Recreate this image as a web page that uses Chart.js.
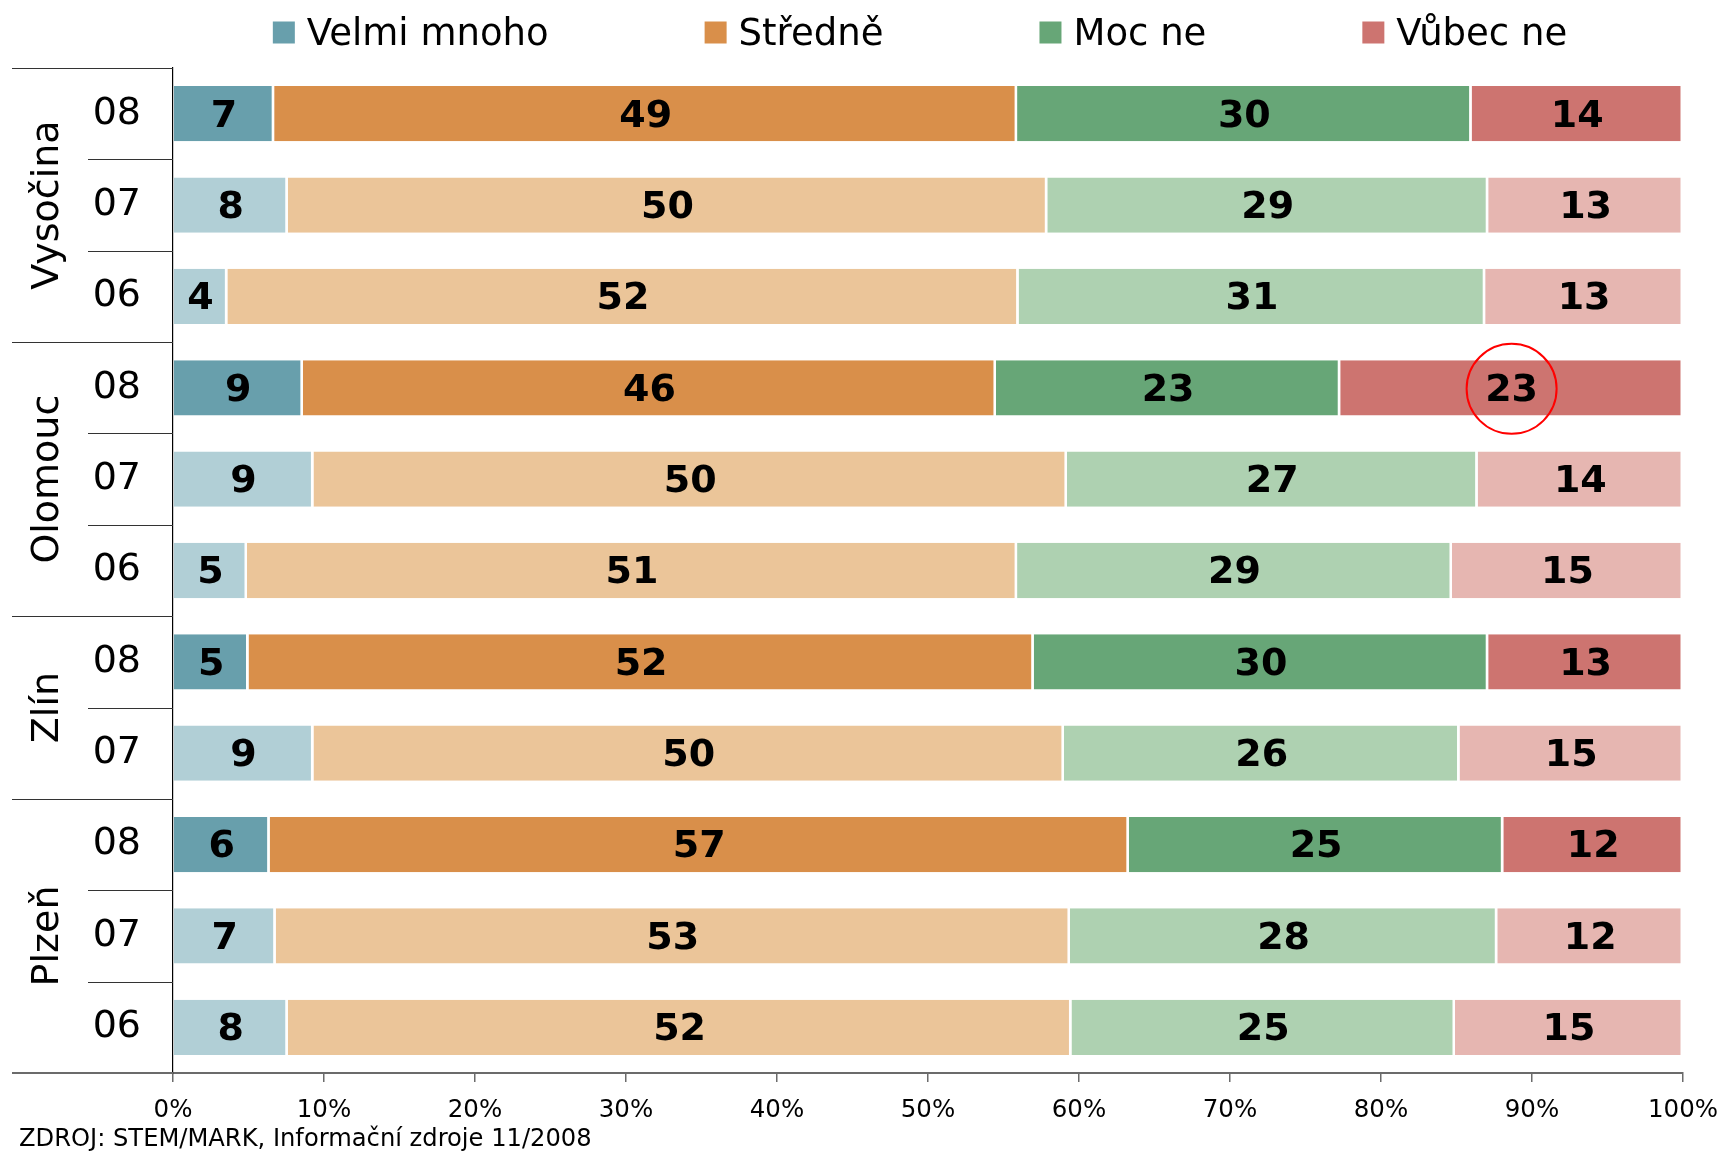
<!DOCTYPE html>
<html lang="cs">
<head>
<meta charset="utf-8">
<title>Informační zdroje 11/2008</title>
<script src="https://cdn.jsdelivr.net/npm/chart.js@4/dist/chart.umd.min.js"></script>
<style>
  html, body { margin: 0; padding: 0; background: #fff; }
  #obal { width: 1719px; height: 1152px; position: relative; }
</style>
</head>
<body>
<div id="obal"><canvas id="graf"></canvas></div>
<script>
// radky grafu shora dolu
const kraje = ['Vysočina', 'Vysočina', 'Vysočina', 'Olomouc', 'Olomouc', 'Olomouc', 'Zlín', 'Zlín', 'Plzeň', 'Plzeň', 'Plzeň'];
const roky = ['08', '07', '06', '08', '07', '06', '08', '07', '08', '07', '06'];

const odpovedi = ['Velmi mnoho', 'Středně', 'Moc ne', 'Vůbec ne'];

// podily v % odectene z delky pruhu (popisky jsou zaokrouhlene)
const velmiMnoho = [6.7, 7.6, 3.6, 8.6, 9.3, 4.9, 5.0, 9.3, 6.4, 6.8, 7.6];
const stredne    = [49.2, 50.3, 52.4, 45.9, 49.9, 51.0, 52.0, 49.7, 56.9, 52.6, 51.9];
const mocNe      = [30.1, 29.2, 30.9, 22.8, 27.2, 28.8, 30.1, 26.2, 24.8, 28.3, 25.4];
const vubecNe    = [14.0, 12.9, 13.1, 22.7, 13.6, 15.3, 12.9, 14.8, 11.9, 12.3, 15.1];

const zdroj = 'ZDROJ: STEM/MARK, Informační zdroje 11/2008';

// zakrouzkovana hodnota: radek Olomouc 08, odpoved Vůbec ne
const zvyraznit = { radek: 3, odpoved: 3 };

const tmave  = ['#689fac', '#d98f4a', '#67a677', '#cd7470'];
const svetle = ['#b1cfd6', '#ebc599', '#aed1b1', '#e6b6b1'];

const pismo = "'DejaVu Sans', Verdana, sans-serif";
Chart.defaults.font.family = pismo;
Chart.defaults.color = '#000';

const hodnoty = [velmiMnoho, stredne, mocNe, vubecNe];

const datasets = odpovedi.map((nazev, k) => ({
  label: nazev,
  data: hodnoty[k],
  backgroundColor: roky.map(r => r === '08' ? tmave[k] : svetle[k]),
  borderColor: '#fff',
  borderWidth: { top: 0, bottom: 0, left: 0, right: 2.5 },
  borderSkipped: false,
  barPercentage: 0.605,
  categoryPercentage: 1
}));

// popisky hodnot uprostred useku + krouzek
const popisky = {
  id: 'popisky',
  afterDatasetsDraw(chart) {
    const ctx = chart.ctx;
    ctx.save();
    ctx.font = 'bold 38px ' + pismo;
    ctx.fillStyle = '#000';
    ctx.textAlign = 'center';
    ctx.textBaseline = 'middle';
    chart.data.datasets.forEach((ds, k) => {
      chart.getDatasetMeta(k).data.forEach((el, i) => {
        const p = el.getProps(['x', 'y', 'base'], true);
        ctx.fillText(Math.round(ds.data[i]), (p.x + p.base) / 2, p.y + 3);
      });
    });
    const el = chart.getDatasetMeta(zvyraznit.odpoved).data[zvyraznit.radek];
    const p = el.getProps(['x', 'y', 'base'], true);
    ctx.strokeStyle = '#ff0000';
    ctx.lineWidth = 2;
    ctx.beginPath();
    ctx.arc((p.x + p.base) / 2, p.y + 1, 45, 0, Math.PI * 2);
    ctx.stroke();
    ctx.restore();
  }
};

// delici cary, nazvy kraju, legenda, zdroj
const okoli = {
  id: 'okoli',
  afterDraw(chart) {
    const ctx = chart.ctx;
    const y = chart.scales.y;
    const area = chart.chartArea;
    ctx.save();

    ctx.strokeStyle = '#333';
    ctx.lineWidth = 1.2;
    for (let i = 0; i < roky.length; i++) {
      const yy = Math.round(y.getPixelForValue(i - 0.5)) + 0.5;
      const novyKraj = i === 0 || kraje[i] !== kraje[i - 1];
      ctx.beginPath();
      ctx.moveTo(novyKraj ? 12 : 88, yy);
      ctx.lineTo(area.left, yy);
      ctx.stroke();
    }
    ctx.strokeStyle = '#6b6b6b';
    ctx.lineWidth = 2;
    ctx.beginPath();
    ctx.moveTo(12, area.bottom);
    ctx.lineTo(area.left, area.bottom);
    ctx.stroke();

    // nazvy kraju svisle
    ctx.font = '38px ' + pismo;
    ctx.fillStyle = '#000';
    ctx.textAlign = 'center';
    ctx.textBaseline = 'alphabetic';
    let od = 0;
    for (let i = 1; i <= kraje.length; i++) {
      if (i === kraje.length || kraje[i] !== kraje[od]) {
        const stred = (y.getPixelForValue(od - 0.5) + y.getPixelForValue(i - 0.5)) / 2;
        ctx.save();
        ctx.translate(58, stred);
        ctx.rotate(-Math.PI / 2);
        ctx.fillText(kraje[od], 0, 0);
        ctx.restore();
        od = i;
      }
    }

    // legenda
    ctx.font = '37px ' + pismo;
    ctx.textAlign = 'left';
    const ctverec = 22, mezera = 12, rozestup = 156;
    const sirky = odpovedi.map(t => ctverec + mezera + ctx.measureText(t).width);
    const celkem = sirky.reduce((a, b) => a + b, 0) + rozestup * (odpovedi.length - 1);
    let x = 920 - celkem / 2;
    odpovedi.forEach((t, k) => {
      ctx.fillStyle = tmave[k];
      ctx.fillRect(x, 21.5, ctverec, ctverec);
      ctx.fillStyle = '#000';
      ctx.fillText(t, x + ctverec + mezera, 45);
      x += sirky[k] + rozestup;
    });

    // zdroj
    ctx.font = '24.2px ' + pismo;
    ctx.fillText(zdroj, 19, 1146);
    ctx.restore();
  }
};

new Chart(document.getElementById('graf'), {
  type: 'bar',
  data: { labels: roky, datasets },
  plugins: [popisky, okoli],
  options: {
    indexAxis: 'y',
    responsive: true,
    maintainAspectRatio: false,
    animation: false,
    layout: { padding: { top: 68, left: 0, right: 36, bottom: 0 } },
    plugins: {
      legend: { display: false },
      tooltip: { enabled: false }
    },
    scales: {
      x: {
        stacked: true,
        min: 0,
        max: 100,
        afterFit(s) {
          s.height = 79;
          s.paddingLeft = 0;
          s.paddingRight = 0;
        },
        ticks: {
          stepSize: 10,
          padding: 14,
          font: { size: 24.5 },
          color: '#000',
          callback: v => v + '%'
        },
        grid: {
          drawOnChartArea: false,
          drawTicks: true,
          tickLength: 9,
          color: '#6b6b6b',
          lineWidth: 1.5
        },
        border: { display: true, color: '#6b6b6b', width: 2 }
      },
      y: {
        stacked: true,
        afterFit(s) { s.width = 173; },
        ticks: {
          autoSkip: false,
          padding: 24,
          font: { size: 38 },
          color: '#000'
        },
        grid: { display: false },
        border: { display: true, color: '#000', width: 1.2 }
      }
    }
  }
});
</script>
</body>
</html>
